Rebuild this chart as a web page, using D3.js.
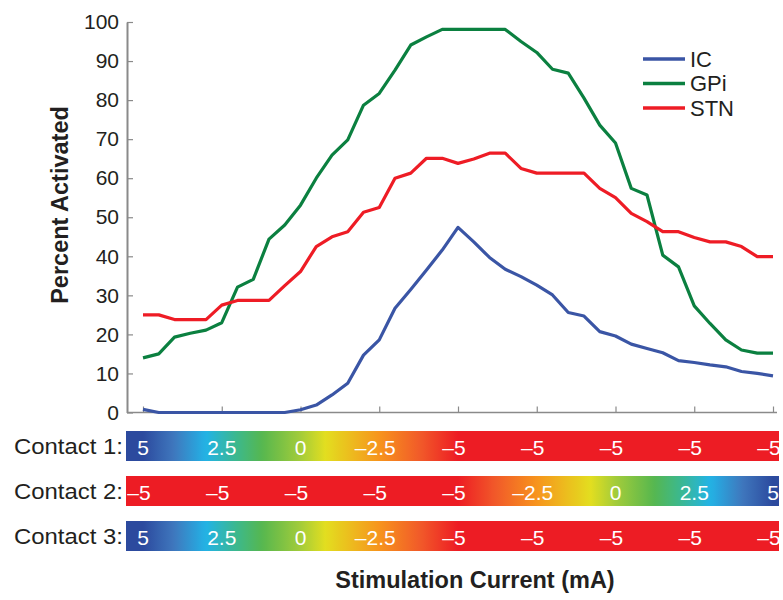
<!DOCTYPE html>
<html>
<head>
<meta charset="utf-8">
<script src="https://cdn.jsdelivr.net/npm/d3@7"></script>
<style>
  body { margin: 0; background: #fff; }
  svg { font-family: "Liberation Sans", Arial, Helvetica, sans-serif; display: block; }
</style>
</head>
<body>
<svg id="chart" width="783" height="600"></svg>
<script>
const width = 783;
const height = 600;
const svg = d3.select('#chart');

// Percent activated at each stimulation step (41 steps)
const steps = d3.range(0, 41);
const icValues = [0.8, 0, 0, 0, 0, 0, 0, 0, 0, 0,
  0.7, 1.9, 4.5, 7.5, 14.7, 18.6, 26.7, 31.5, 36.5, 41.6,
  47.4, 43.7, 39.7, 36.7, 34.8, 32.6, 30.1, 25.6, 24.7, 20.7,
  19.6, 17.5, 16.4, 15.3, 13.3, 12.8, 12.2, 11.7, 10.5, 10.0, 9.4];
const gpiValues = [14.0, 15.0, 19.3, 20.3, 21.1, 23.0, 32.1, 34.1, 44.4, 48.0,
  53.1, 60.0, 65.9, 69.8, 78.7, 81.7, 87.7, 94.1, 96.2, 98.1,
  98.1, 98.1, 98.1, 98.1, 95.0, 92.2, 87.9, 86.9, 80.5, 73.6,
  69.0, 57.4, 55.7, 40.3, 37.3, 27.3, 22.8, 18.6, 16.0, 15.2, 15.2];
const stnValues = [25.0, 25.0, 23.8, 23.8, 23.8, 27.5, 28.7, 28.7, 28.7, 32.5,
  36.1, 42.5, 45.0, 46.3, 51.3, 52.5, 60.0, 61.3, 65.1, 65.1,
  63.8, 64.9, 66.4, 66.4, 62.5, 61.3, 61.3, 61.3, 61.3, 57.4,
  55.0, 51.0, 48.9, 46.3, 46.3, 44.8, 43.7, 43.7, 42.5, 39.9, 39.9];

const seriesNames = ['IC', 'GPi', 'STN'];
const seriesColors = ['#3a55a5', '#0b8040', '#ee1c25'];

const yTicks = [0, 10, 20, 30, 40, 50, 60, 70, 80, 90, 100];

// contact currents (mA) at the labelled steps
const labelSteps = [0, 5, 10, 15, 20, 25, 30, 35, 40];
const contactNames = ['Contact 1:', 'Contact 2:', 'Contact 3:'];
const contact1 = [5, 2.5, 0, -2.5, -5, -5, -5, -5, -5];
const contact2 = [-5, -5, -5, -5, -5, -2.5, 0, 2.5, 5];
const contact3 = [5, 2.5, 0, -2.5, -5, -5, -5, -5, -5];

const x = d3.scaleLinear().domain([0, 40]).range([143, 773]);
const y = d3.scaleLinear().domain([0, 100]).range([412.5, 22]);

const axisColor = '#8a8a8a';
const textColor = '#231f20';

// y axis
const yAxis = svg.append('g')
  .attr('transform', 'translate(127,0)')
  .call(d3.axisLeft(y).tickValues(yTicks).tickSizeInner(-6).tickSizeOuter(0).tickPadding(8));
yAxis.select('.domain').attr('stroke', axisColor).attr('stroke-width', 2);
yAxis.selectAll('.tick line').attr('stroke', axisColor).attr('stroke-width', 1.2);
yAxis.selectAll('.tick text')
  .attr('fill', textColor)
  .style('font-size', '21px')
  .style('font-family', '"Liberation Sans", Arial, sans-serif');

// x axis
const xAxis = svg.append('g')
  .attr('transform', 'translate(0,412.5)')
  .call(d3.axisBottom(x).tickValues(labelSteps).tickSizeInner(-6).tickSizeOuter(0).tickFormat(''));
xAxis.select('.domain').attr('d', 'M127,0H777').attr('stroke', axisColor).attr('stroke-width', 1.5);
xAxis.selectAll('.tick line').attr('stroke', axisColor).attr('stroke-width', 1.2);

svg.append('text')
  .attr('transform', 'translate(68,205) rotate(-90)')
  .attr('text-anchor', 'middle')
  .attr('fill', textColor)
  .style('font-size', '23.5px')
  .style('font-weight', 'bold')
  .text('Percent Activated');

// lines
const line = d3.line()
  .x((d, i) => x(steps[i]))
  .y(d => y(d));

const allSeries = [icValues, gpiValues, stnValues];
svg.append('g')
  .selectAll('path')
  .data(allSeries)
  .enter().append('path')
  .attr('d', line)
  .attr('fill', 'none')
  .attr('stroke', (d, i) => seriesColors[i])
  .attr('stroke-width', 3.2)
  .attr('stroke-linejoin', 'round');

// legend
const legend = svg.append('g').attr('transform', 'translate(643,59)');
seriesNames.forEach((name, i) => {
  const g = legend.append('g').attr('transform', `translate(0,${i * 24.5})`);
  g.append('line')
    .attr('x1', 0).attr('x2', 42)
    .attr('stroke', seriesColors[i])
    .attr('stroke-width', 3.5);
  g.append('text')
    .attr('x', 47)
    .attr('dy', '0.36em')
    .attr('fill', textColor)
    .style('font-size', '22px')
    .text(name);
});

// current colour bars
const currentColor = d3.scaleLinear()
  .domain([5, 4, 3, 2, 1.2, 0, -0.8, -2.5, -3.8, -5])
  .range(['#2c4a9e', '#3f78be', '#22b3e6', '#3db88a', '#57b74e', '#a3cc3a', '#e3de1f', '#f7941d', '#f15a29', '#ed1c24']);

const barLeft = 126;
const barRight = 779;
const barH = 30;
const barTops = [431, 476, 521];
const contacts = [contact1, contact2, contact3];
const defs = svg.append('defs');

const fmt = v => (v < 0 ? '\u2013' : '') + Math.abs(v);

contacts.forEach((vals, c) => {
  const grad = defs.append('linearGradient')
    .attr('id', 'grad' + c)
    .attr('gradientUnits', 'userSpaceOnUse')
    .attr('x1', barLeft).attr('x2', barRight)
    .attr('y1', 0).attr('y2', 0);
  const stops = [{ o: 0, c: currentColor(vals[0]) }];
  for (let k = 0; k < vals.length - 1; k++) {
    const v0 = vals[k], v1 = vals[k + 1];
    const n = v0 === v1 ? 1 : 16;
    for (let t = 0; t <= n; t++) {
      const s = labelSteps[k] + (labelSteps[k + 1] - labelSteps[k]) * t / n;
      const v = v0 + (v1 - v0) * t / n;
      stops.push({ o: (x(s) - barLeft) / (barRight - barLeft), c: currentColor(v) });
    }
  }
  stops.push({ o: 1, c: currentColor(vals[vals.length - 1]) });
  grad.selectAll('stop').data(stops).enter().append('stop')
    .attr('offset', d => d.o)
    .attr('stop-color', d => d.c);

  const top = barTops[c];
  svg.append('rect')
    .attr('x', barLeft).attr('y', top)
    .attr('width', barRight - barLeft).attr('height', barH)
    .attr('fill', `url(#grad${c})`);

  svg.append('text')
    .attr('x', 123).attr('y', top + barH / 2)
    .attr('dy', '0.36em')
    .attr('text-anchor', 'end')
    .attr('fill', textColor)
    .attr('textLength', 109)
    .attr('lengthAdjust', 'spacingAndGlyphs')
    .style('font-size', '22px')
    .text(contactNames[c]);

  svg.append('g')
    .selectAll('text')
    .data(vals)
    .enter().append('text')
    .attr('x', (d, i) => x(labelSteps[i]) + (d < 0 ? -4 : 0))
    .attr('y', top + barH / 2 + 1)
    .attr('dy', '0.36em')
    .attr('text-anchor', 'middle')
    .attr('fill', '#fff')
    .style('font-size', '21px')
    .text(fmt);
});

svg.append('text')
  .attr('x', 475).attr('y', 588)
  .attr('text-anchor', 'middle')
  .attr('fill', textColor)
  .style('font-size', '23.5px')
  .style('font-weight', 'bold')
  .text('Stimulation Current (mA)');
</script>
</body>
</html>
